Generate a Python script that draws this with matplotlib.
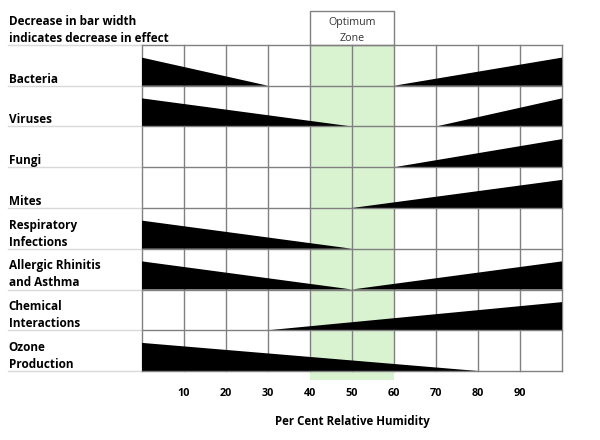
import numpy as np
import matplotlib.pyplot as plt
from matplotlib.patches import Rectangle

# data
categories = ["Bacteria", "Viruses", "Fungi", "Mites",
              "Respiratory\nInfections", "Allergic Rhinitis\nand Asthma",
              "Chemical\nInteractions", "Ozone\nProduction"]
# humidity where the falling wedge (starting at 0) reaches zero
falls_to = [30, 50, None, None, 50, 50, None, 80]
# humidity where the rising wedge (ending at 100) starts
rises_from = [60, 70, 60, 50, None, 50, 30, None]
ticks = [10, 20, 30, 40, 50, 60, 70, 80, 90]
optimum = (40, 60)

plt.rcParams['font.family'] = ['Open Sans', 'DejaVu Sans']

fig = plt.figure(figsize=(6, 4.4), dpi=100)
ax = fig.add_axes([142/600, 1-371/440, 420/600, 326/440])
n = len(categories)
ax.set_xlim(0, 100)
ax.set_ylim(0, n)
for s in ax.spines.values():
    s.set_visible(False)

grid_c = '#808080'
wedge_h = 0.69

# optimum zone shading, slightly past the grid bottom
ax.add_patch(Rectangle((optimum[0], -0.22), optimum[1]-optimum[0], n + 0.22,
                       facecolor='#d9f2d0', edgecolor='none', clip_on=False, zorder=0))
# box on top with the title
ax.add_patch(Rectangle((optimum[0], n), optimum[1]-optimum[0], 0.83,
                       facecolor='white', edgecolor=grid_c, lw=1, clip_on=False))
ax.text(50, n + 0.54, "Optimum", ha='center', va='center', fontsize=7.7, color='#333333')
ax.text(50, n + 0.15, "Zone", ha='center', va='center', fontsize=7.7, color='#333333')

# vertical grid lines
for x in range(0, 101, 10):
    ax.plot([x, x], [0, n], color=grid_c, lw=1, zorder=1, clip_on=False)

# horizontal row lines, light in the label area
for i in range(n + 1):
    ax.plot([-32, 0], [i, i], color='#d9d9d9', lw=1, clip_on=False, zorder=1)
    ax.plot([0, 100], [i, i], color=grid_c, lw=1, clip_on=False, zorder=3)

for i, name in enumerate(categories):
    y0 = n - 1 - i
    if falls_to[i] is not None:
        ax.fill([0, 0, falls_to[i]], [y0, y0 + wedge_h, y0], color='black', lw=0, zorder=2)
    if rises_from[i] is not None:
        ax.fill([rises_from[i], 100, 100], [y0, y0 + wedge_h, y0], color='black', lw=0, zorder=2)
    ax.text(-31.7, y0 + 0.0, name, ha='left', va='bottom', fontsize=8.5,
            fontweight='bold', linespacing=1.4, clip_on=False)

ax.text(-31.7, n + 0.0, "Decrease in bar width\nindicates decrease in effect",
        ha='left', va='bottom', fontsize=8.5, fontweight='bold', linespacing=1.4)

ax.set_yticks([])
ax.set_xticks(ticks)
ax.set_xticklabels([str(t) for t in ticks], fontsize=7.8, fontweight='bold')
ax.tick_params(axis='x', length=0, pad=12)
ax.set_xlabel("Per Cent Relative Humidity", fontsize=8.3, fontweight='bold', labelpad=12)

fig.savefig('out.png', dpi=100)
